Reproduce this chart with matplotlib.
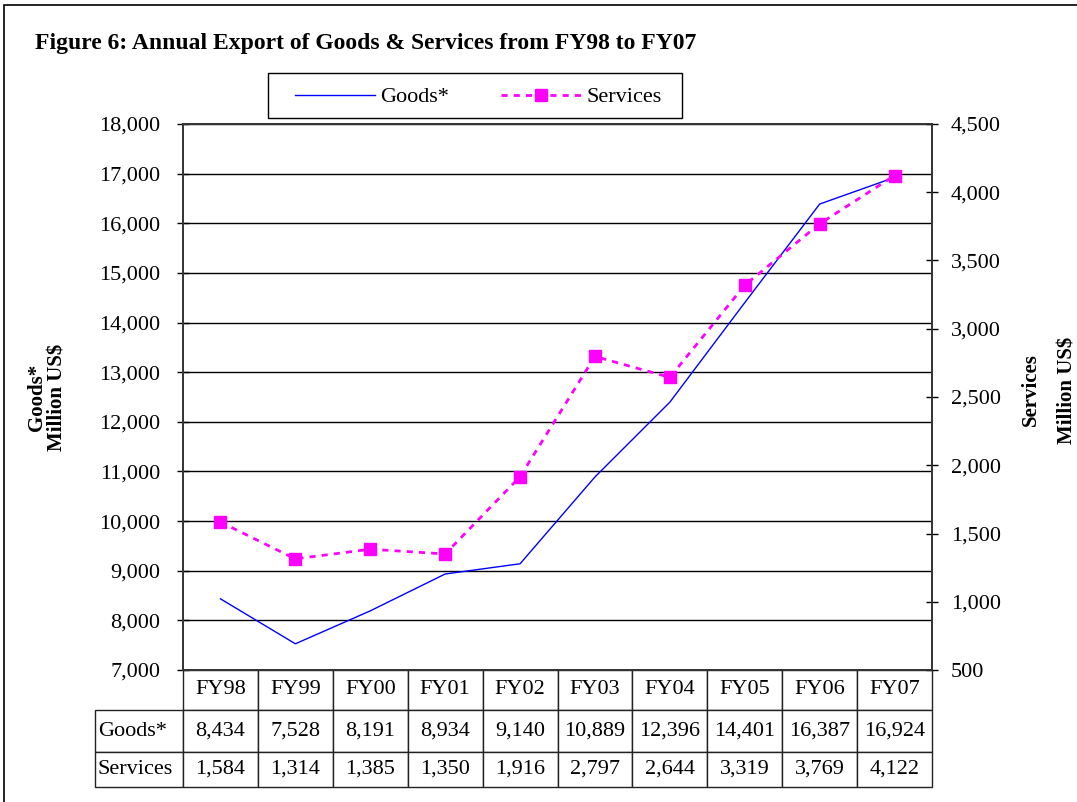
import matplotlib
matplotlib.use("Agg")
import matplotlib.pyplot as plt
from matplotlib.patches import Rectangle
import numpy as np

plt.rcParams['font.family'] = ['Liberation Serif', 'DejaVu Serif']

years = ['FY98', 'FY99', 'FY00', 'FY01', 'FY02', 'FY03', 'FY04', 'FY05', 'FY06', 'FY07']
goods = [8434, 7528, 8191, 8934, 9140, 10889, 12396, 14401, 16387, 16924]
services = [1584, 1314, 1385, 1350, 1916, 2797, 2644, 3319, 3769, 4122]
row_names = ['Goods*', 'Services']

W, H = 1077, 802
fig = plt.figure(figsize=(W / 100, H / 100), dpi=100)

# frame round the whole picture (right and bottom edges fall off the page)
fig.patches.append(Rectangle((4 / W, -0.1), 1.2, 1.1 - 5 / H, transform=fig.transFigure,
                             fill=False, edgecolor='black', linewidth=1.2, clip_on=False))

ax_l, ax_r, ax_t, ax_b = 183, 932, 124, 670
ax = fig.add_axes([ax_l / W, 1 - ax_b / H, (ax_r - ax_l) / W, (ax_b - ax_t) / H])
x = np.arange(len(years))

ax.plot(x, goods, color='#0000FF', linewidth=1, label='Goods*')
ax.set_xlim(-0.5, len(years) - 0.5)
ax.set_ylim(7000, 18000)
ax.set_yticks(np.arange(7000, 18001, 1000))
ax.set_yticklabels([f'{v:,}' for v in range(7000, 18001, 1000)])
ax.set_xticks([])
ax.grid(axis='y', color='black', linewidth=1)
ax.tick_params(axis='y', direction='inout', length=9, width=1, labelsize=16, pad=12)
for s in ax.spines.values():
    s.set_linewidth(1.2)
    s.set_color('#333333')

ax2 = ax.twinx()
ax2.plot(x, services, color='#FF00FF', linewidth=2, linestyle=(0, (2.2, 2.2)),
         marker='s', markersize=9, markerfacecolor='#FF00FF', markeredgecolor='#FF00FF',
         label='Services')
ax2.set_ylim(500, 4500)
ax2.set_yticks(np.arange(500, 4501, 500))
ax2.set_yticklabels([f'{v:,}' if v >= 1000 else str(v) for v in range(500, 4501, 500)])
ax2.tick_params(axis='y', direction='inout', length=9, width=1, labelsize=16, pad=9)
for s in ax2.spines.values():
    s.set_linewidth(1.2)
    s.set_color('#333333')

# data table under the plot
cell_text = [[''] + years,
             [row_names[0]] + [f'{v:,}' for v in goods],
             [row_names[1]] + [f'{v:,}' for v in services]]
lab_w = 88
col_w = (ax_r - ax_l) / len(years)
tot_w = lab_w + (ax_r - ax_l)
heights = [40, 42, 35]
tbl = ax.table(cellText=cell_text, cellLoc='center',
               colWidths=[lab_w / tot_w] + [col_w / tot_w] * len(years),
               bbox=[-lab_w / (ax_r - ax_l), -sum(heights) / (ax_b - ax_t),
                     tot_w / (ax_r - ax_l), sum(heights) / (ax_b - ax_t)])
tbl.auto_set_font_size(False)
tbl.set_fontsize(16)
for (r, c), cell in tbl.get_celld().items():
    cell.set_height(heights[r] / sum(heights))
    cell.set_edgecolor('#222222')
    cell.set_linewidth(1)
    if r == 0 and c == 0:
        cell.visible_edges = ''
    if c == 0 and r > 0:
        cell._loc = 'left'
        cell.PAD = 0.03
        cell.get_text().set_ha('left')

fig.text(35 / W, 1 - 43 / H, 'Figure 6: Annual Export of Goods & Services from FY98 to FY07',
         fontsize=17, fontweight='bold', ha='left', va='center')

fig.text(47 / W, 1 - 397 / H, 'Goods*\nMillion US$', rotation=90, fontsize=15,
         fontweight='bold', ha='center', va='center', linespacing=1.0)
fig.text(1031 / W, 1 - 390 / H, 'Services', rotation=90, fontsize=15,
         fontweight='bold', ha='center', va='center')
fig.text(1068 / W, 1 - 390 / H, 'Million US$', rotation=90, fontsize=15,
         fontweight='bold', ha='center', va='center')

# legend: box drawn separately so it sits where the original one does
fig.patches.append(Rectangle((268 / W, 1 - 118 / H), 414 / W, 45 / H,
                             transform=fig.transFigure, fill=False,
                             edgecolor='black', linewidth=1))
h1, l1 = ax.get_legend_handles_labels()
h2, l2 = ax2.get_legend_handles_labels()
leg = fig.legend(h1 + h2, l1 + l2, loc='center left', ncol=2,
                 bbox_to_anchor=(295 / W, 1 - 97 / H), fontsize=16,
                 frameon=False, borderpad=0, borderaxespad=0,
                 handlelength=3.6, handletextpad=0.25, columnspacing=2.3)

fig.savefig('out.png', dpi=100)
